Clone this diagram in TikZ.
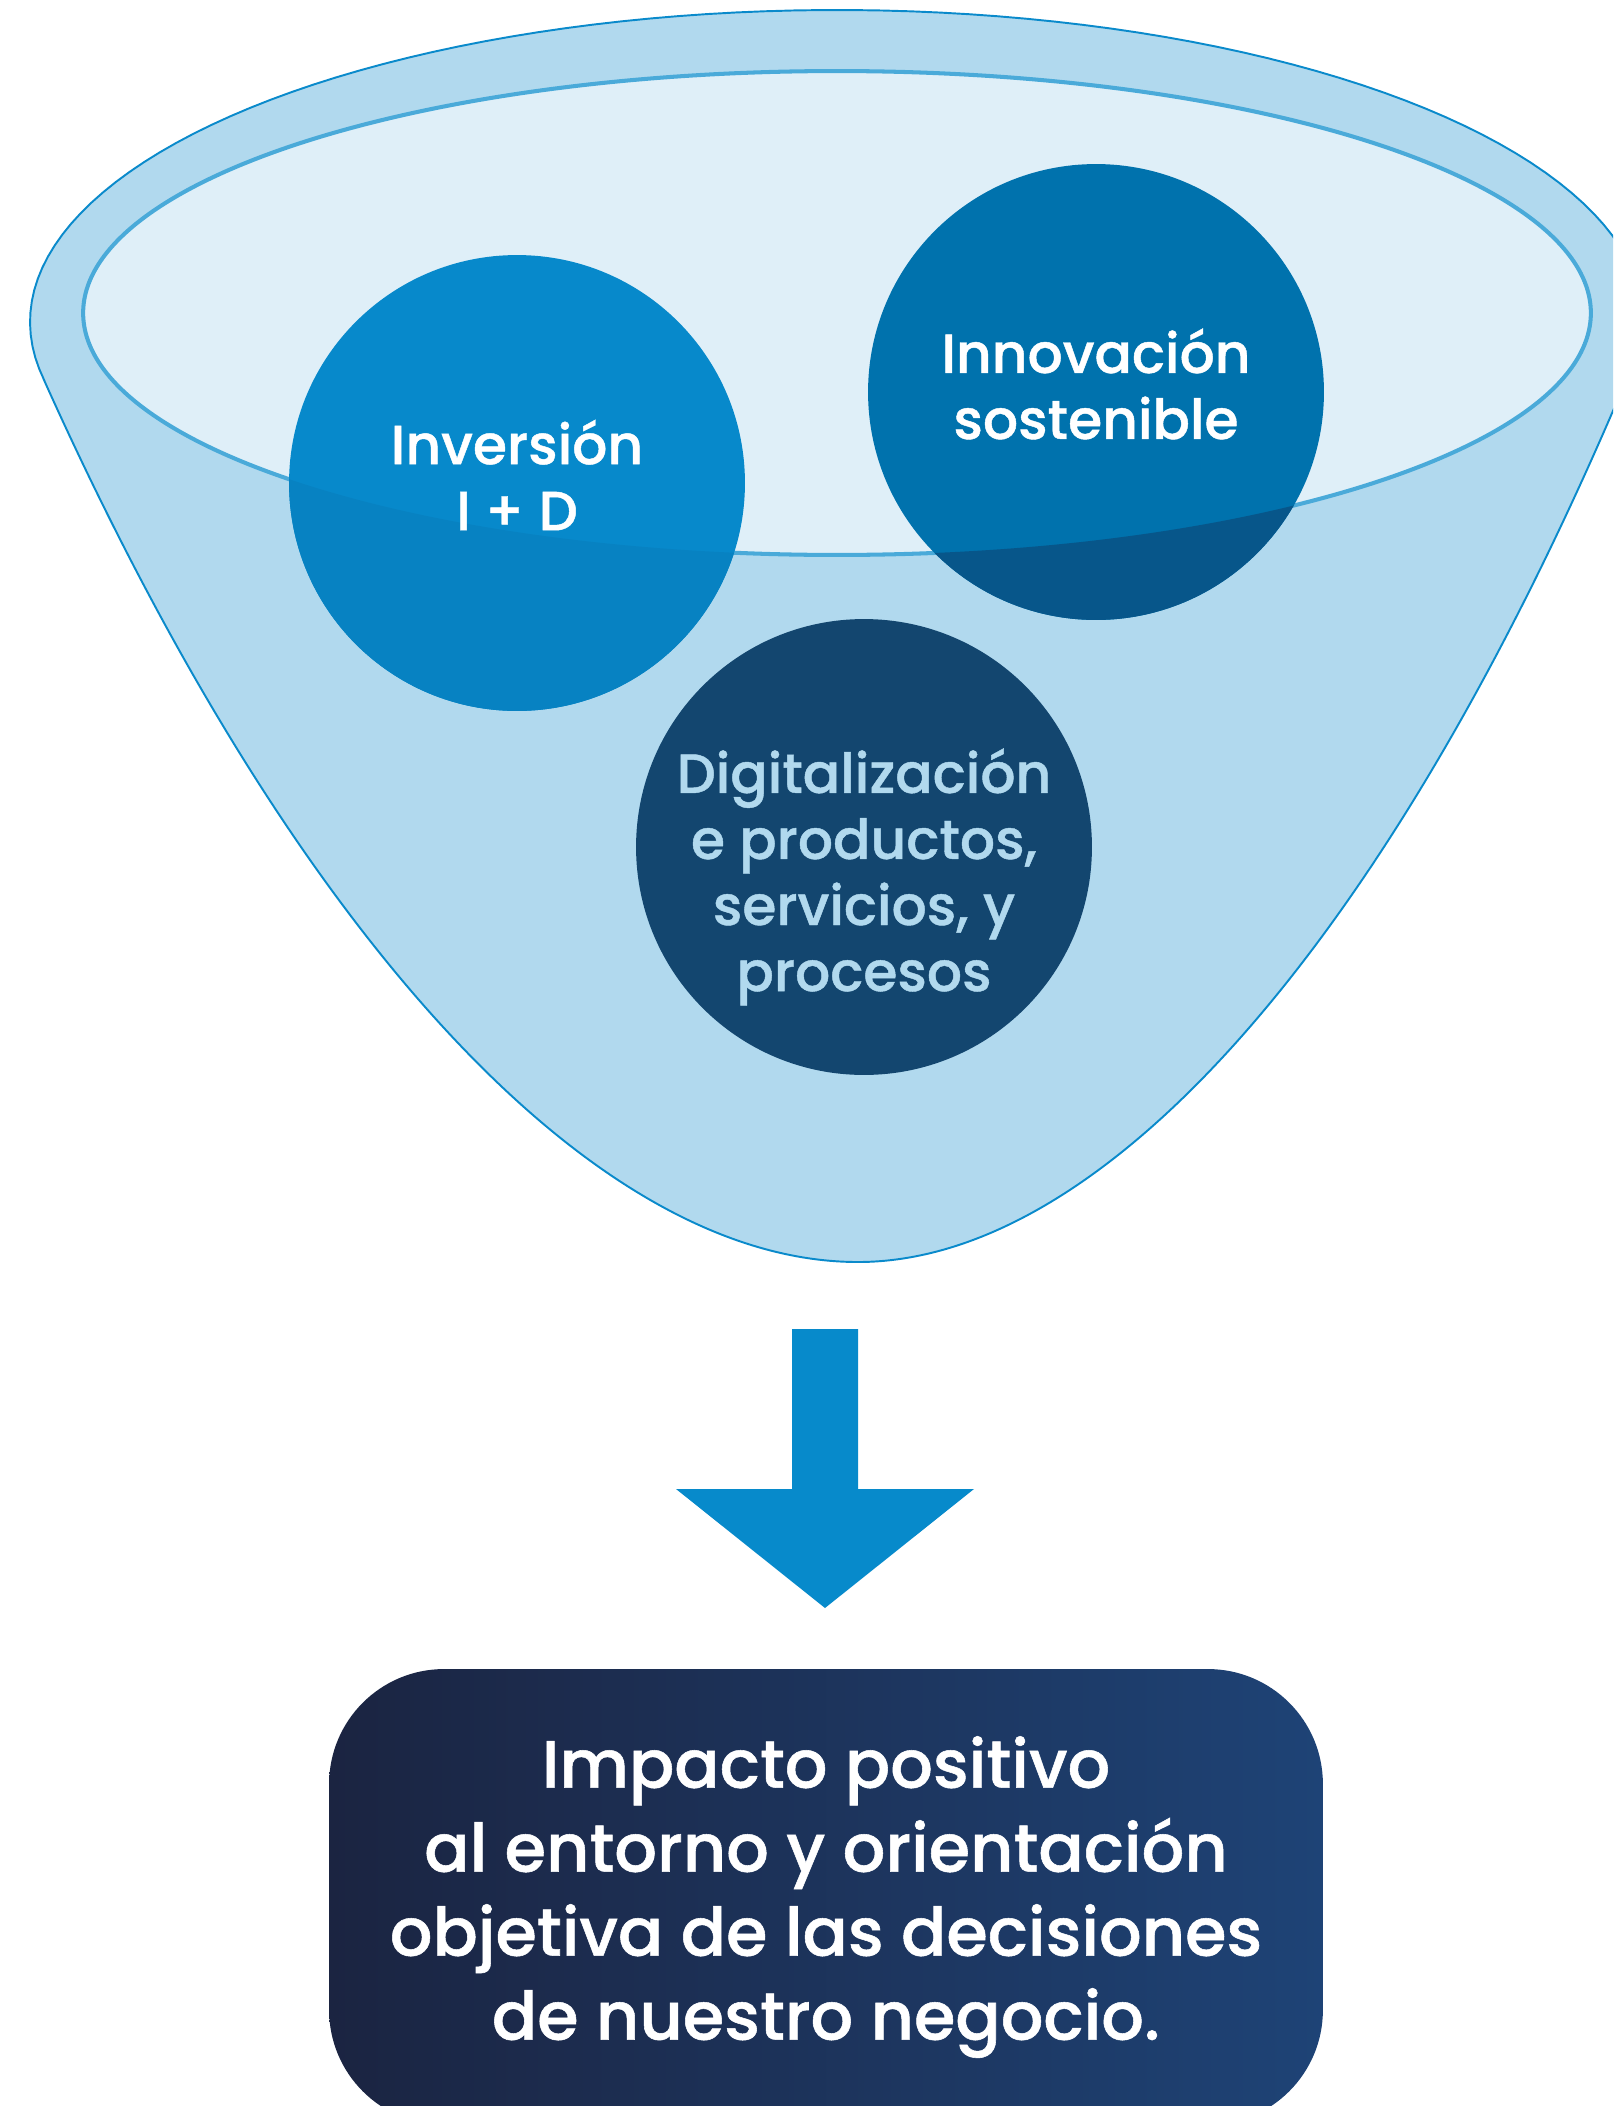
\documentclass[tikz,border=0pt]{standalone}
\usepackage{fontspec}
\setmainfont{Poppins}[UprightFont={* Medium}, FakeBold=0.8]
\usetikzlibrary{positioning}

\definecolor{funnelfill}{HTML}{B1D9EE}
\definecolor{funneledge}{HTML}{0A8ACB}
\definecolor{rimfill}{HTML}{DFEFF8}
\definecolor{rimedge}{HTML}{4AAAD9}
\definecolor{invfill}{HTML}{0789CB}
\definecolor{invdark}{HTML}{0782C2}
\definecolor{innfill}{HTML}{0072AD}
\definecolor{inndark}{HTML}{07568A}
\definecolor{digfill}{HTML}{13466F}
\definecolor{digtext}{HTML}{B1D9EE}
\definecolor{arrowfill}{HTML}{078ACB}
\definecolor{boxleft}{HTML}{1B2441}
\definecolor{boxright}{HTML}{1E4376}

\begin{document}
\begin{tikzpicture}[
    x=0.02cm, y=-0.02cm,
    circ_node/.style={circle, draw=none, minimum size=9.12cm, inner sep=0pt},
    circ_text/.style={align=center, inner sep=0pt, font=\fontsize{31.4pt}{37.6pt}\selectfont},
    low_part/.style={path picture={
      \fill[#1, even odd rule] ([shift={(-1000,-1000)}]rim_c) rectangle ([shift={(1000,1500)}]rim_c)
        (rim_c) ellipse [x radius=15.08cm, y radius=4.84cm];}},
    rim_line/.style={draw=rimedge, line width=2.3pt, fill=rimfill},
    funnel_line/.style={draw=funneledge, line width=1.1pt, fill=funnelfill},
    box_node/.style={rounded corners=2.3cm, minimum width=19.88cm, minimum height=9.12cm,
      left color=boxleft, right color=boxright, text=white, align=center,
      font=\fontsize{38.1pt}{47.8pt}\selectfont}
  ]
    \clip (0,0) rectangle (1613,2106);

    % funnel
    \draw[funnel_line] plot[domain=169.29:375, samples=100] ({837+807*cos(\x)}, {322+312*sin(\x)})
      .. controls (1378,958) and (1098,1262) .. (858,1262)
      .. controls (600,1262) and (300,950) .. (44,380) -- cycle;
    \coordinate (rim_c) at (837,313);
    \draw[rim_line] (rim_c) ellipse [x radius=15.08cm, y radius=4.84cm];

    % circles
    \node[circ_node, fill=invfill, low_part=invdark] (inv) at (517,483) {};
    \node[circ_node, fill=innfill, low_part=inndark] (inn) at (1096,392) {};
    \node[circ_node, fill=digfill] (dig) at (864,847) {};

    \node[circ_text, text=white] (inv_txt) at ([yshift=0.16cm]inv.center) {Inversión\\I + D};
    \node[circ_text, text=white] (inn_txt) at ([yshift=0.16cm]inn.center) {Innovación\\sostenible};
    \node[circ_text, text=digtext] (dig_txt) at ([yshift=-0.6cm]dig.center)
      {Digitalización\\e productos,\\servicios, y\\procesos};

    % arrow
    \fill[arrowfill] (792,1329) -- (858,1329) -- (858,1489) -- (974,1489) -- (825,1608)
      -- (676,1489) -- (792,1489) -- cycle;

    \node[box_node] (impact) at (826,1897)
      {Impacto positivo\\al entorno y orientación\\objetiva de las decisiones\\de nuestro negocio.};
\end{tikzpicture}
\end{document}
